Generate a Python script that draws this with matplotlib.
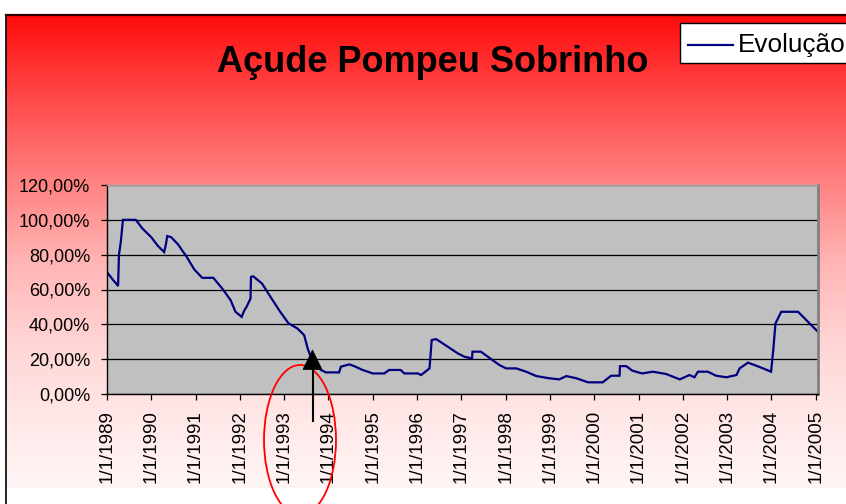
import numpy as np
import matplotlib
matplotlib.use("Agg")
import matplotlib.pyplot as plt
from matplotlib.patches import Ellipse, Rectangle, Polygon
from matplotlib.lines import Line2D
from matplotlib.ticker import FuncFormatter, FixedLocator

plt.rcParams['font.family'] = ['Liberation Sans', 'DejaVu Sans']

# ---------------- data ----------------
title = "Açude Pompeu Sobrinho"
series_name = "Evolução"
years = [1989.00, 1989.12, 1989.22, 1989.25, 1989.27, 1989.31, 1989.36, 1989.65, 1989.80,
         1990.00, 1990.15, 1990.29, 1990.33, 1990.36, 1990.45, 1990.60, 1990.80, 1990.97,
         1991.15, 1991.40, 1991.60, 1991.79, 1991.90, 1992.04, 1992.10, 1992.15, 1992.24,
         1992.25, 1992.30, 1992.50, 1992.69, 1992.91, 1993.10, 1993.30, 1993.45, 1993.53,
         1993.64, 1993.83, 1993.94, 1994.24, 1994.28, 1994.47, 1994.58, 1994.77, 1995.00,
         1995.26, 1995.37, 1995.63, 1995.71, 1996.02, 1996.09, 1996.28, 1996.33, 1996.43,
         1996.66, 1996.92, 1997.07, 1997.24, 1997.25, 1997.44, 1997.70, 1997.86, 1998.01,
         1998.24, 1998.46, 1998.69, 1998.99, 1999.21, 1999.37, 1999.60, 1999.86, 2000.19,
         2000.38, 2000.57, 2000.58, 2000.72, 2000.86, 2001.08, 2001.32, 2001.62, 2001.93,
         2002.15, 2002.26, 2002.34, 2002.56, 2002.75, 2002.98, 2003.21, 2003.28, 2003.47,
         2003.62, 2003.81, 2003.99, 2004.04, 2004.09, 2004.22, 2004.60, 2005.05]
values = [70.0, 66.0, 63.0, 62.0, 80.0, 87.0, 100.0, 100.0, 95.0,
          90.0, 85.0, 81.5, 86.0, 90.7, 90.0, 86.0, 78.7, 71.5,
          66.7, 66.7, 60.6, 53.9, 47.2, 44.3, 48.0, 50.0, 54.8,
          67.2, 67.6, 63.4, 55.8, 47.2, 40.5, 37.6, 33.8, 26.2,
          18.5, 13.8, 12.4, 12.4, 15.7, 17.0, 16.0, 13.8, 11.8,
          11.8, 13.8, 13.8, 11.8, 11.8, 10.9, 14.7, 31.0, 31.5,
          27.7, 23.3, 21.4, 20.4, 24.3, 24.3, 19.5, 16.6, 14.7,
          14.7, 12.8, 10.3, 9.0, 8.4, 10.3, 9.0, 6.7, 6.7,
          10.5, 10.5, 16.0, 16.0, 13.4, 11.8, 12.8, 11.5, 8.4,
          10.9, 9.6, 12.8, 12.8, 10.5, 9.6, 10.9, 14.7, 18.0,
          16.6, 14.7, 12.8, 25.2, 40.5, 47.2, 47.2, 35.7]
tick_years = list(range(1989, 2006))
tick_labels = [f"1/1/{y}" for y in tick_years]
y_ticks = [0, 20, 40, 60, 80, 100, 120]

# ---------------- figure ----------------
W, H = 846, 504
fig = plt.figure(figsize=(W / 100, H / 100), dpi=100, facecolor='white')

# background gradient axes (pixel coords)
bg = fig.add_axes([0, 0, 1, 1], zorder=0)
bg.set_xlim(0, W)
bg.set_ylim(H, 0)
bg.axis('off')
ys = np.arange(15, 488)
kp_y = [15, 60, 100, 180, 260, 350, 420, 487]
kp_g = [12, 45, 75, 128, 180, 215, 232, 245]
g = np.interp(ys, kp_y, kp_g) / 255.0
grad = np.zeros((len(ys), 1, 3))
grad[:, 0, 0] = 1.0
grad[:, 0, 1] = g
grad[:, 0, 2] = g
bg.imshow(grad, extent=[6, W, 488, 15], aspect='auto', interpolation='bilinear')
bg.add_line(Line2D([6, 6], [15, H], color='black', lw=1.2))
bg.add_line(Line2D([6, W], [15, 15], color='#300000', lw=1.6))

# title
fig.text(433 / W, 1 - 72 / H, title, ha='center', va='baseline',
         fontsize=26, fontweight='bold', color='black', zorder=5)

# main axes
left, right, top, bottom = 107, 818, 185, 394
ax = fig.add_axes([left / W, 1 - bottom / H, (right - left) / W, (bottom - top) / H], zorder=2)
ax.set_facecolor('#C0C0C0')
ax.plot(years, values, color='#000080', lw=1.6, solid_joinstyle='miter')
ax.set_xlim(1989, 2005.05)
ax.set_ylim(0, 120)
ax.yaxis.set_major_locator(FixedLocator(y_ticks))
ax.yaxis.set_major_formatter(FuncFormatter(lambda v, p: f"{v:.2f}".replace('.', ',') + "%"))
ax.set_xticks(tick_years)
ax.set_xticklabels(tick_labels, rotation=90)
ax.grid(axis='y', color='black', lw=0.9)
ax.set_axisbelow(True)
ax.tick_params(axis='y', direction='out', length=4.5, width=0.9, pad=7.5, labelsize=13)
ax.tick_params(axis='x', direction='out', length=4.5, width=0.9, pad=7, labelsize=13.5)
for s in ['left', 'bottom']:
    ax.spines[s].set_color('black')
    ax.spines[s].set_linewidth(1.0)
ax.spines['right'].set_color('#808080')
ax.spines['right'].set_linewidth(2.0)
ax.spines['top'].set_color('#A0A0A0')
ax.spines['top'].set_linewidth(1.0)

# overlay annotations (pixel coords)
ov = fig.add_axes([0, 0, 1, 1], zorder=4)
ov.set_xlim(0, W)
ov.set_ylim(H, 0)
ov.axis('off')
ov.patch.set_alpha(0)
ov.add_patch(Ellipse((300, 440), 72, 150, fill=False, edgecolor='#FF0000', lw=1.3))
ov.add_line(Line2D([312.5, 312.5], [421, 366], color='black', lw=1.5))
ov.add_patch(Polygon([[312.5, 350], [303, 369.5], [322, 369.5]], closed=True,
                     facecolor='black', edgecolor='black', lw=0.5))

# legend
ov.add_patch(Rectangle((680, 23), 200, 40, facecolor='white', edgecolor='black', lw=1.0))
ov.add_line(Line2D([688, 733], [45, 45], color='#000080', lw=1.6))
ov.text(738, 45, series_name, ha='left', va='center', fontsize=18.8, color='black')

fig.savefig('out.png', dpi=100, facecolor='white')
